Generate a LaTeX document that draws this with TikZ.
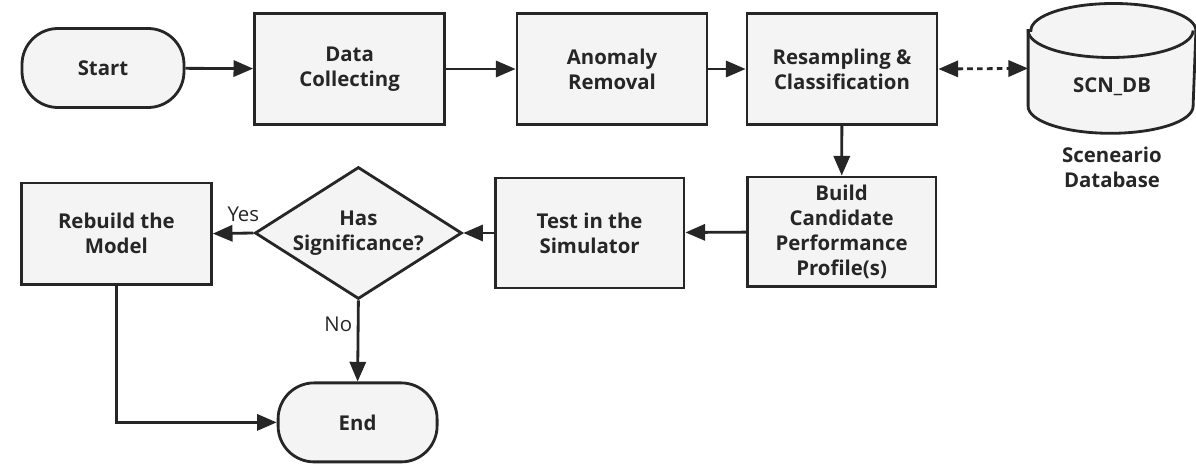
\documentclass[tikz,border=0pt]{standalone}
\usepackage{fontspec}
\setmainfont{Open Sans}
\usetikzlibrary{positioning, shapes.geometric, shapes.misc, arrows.meta, calc}
\definecolor{ink}{HTML}{262626}
\definecolor{boxfill}{HTML}{F4F4F4}

\begin{document}
\begin{tikzpicture}[font=\fontsize{14.5}{17.7}\selectfont, line width=2pt, color=ink,
  box/.style={draw=ink, fill=boxfill, align=center, text=ink, inner sep=2pt,
              font=\fontsize{14.5}{17.7}\selectfont\bfseries,
              minimum width=4.75cm, minimum height=2.78cm},
  term/.style={box, rounded corners=0.9cm, minimum width=4.05cm, minimum height=1.975cm},
  flow/.style={-{Triangle[length=14pt, width=11.5pt]}},
  link/.style={{Triangle[length=14pt, width=11.5pt]}-{Triangle[length=14pt, width=11.5pt]},
               dash pattern=on 4pt off 3pt}]
  \useasboundingbox (0,0) rectangle (29.9,11.6);

  % Top row
  \node[term] (start) at (2.575,9.9) {Start};
  \node[box] (collect) at (8.74,9.875) {Data\\Collecting};
  \node[box] (anomaly) at (15.3,9.875) {Anomaly\\Removal};
  \node[box] (resample) at (21.05,9.875) {Resampling \&\\Classification};

  % Database cylinder
  \node[minimum width=4.125cm, minimum height=3.175cm, inner sep=0pt] (scndb) at (27.8,9.89) {};
  \draw[fill=boxfill] ($(scndb.north west)+(0,-0.675)$) -- ($(scndb.south west)+(0,0.675)$)
    arc[start angle=180, end angle=360, x radius=2.0625cm, y radius=0.675cm]
    -- ($(scndb.north east)+(0,-0.675)$)
    arc[start angle=0, end angle=180, x radius=2.0625cm, y radius=0.675cm] -- cycle;
  \draw ($(scndb.north west)+(0,-0.675)$)
    arc[start angle=180, end angle=360, x radius=2.0625cm, y radius=0.675cm];
  \node[font=\fontsize{14.5}{17.7}\selectfont\bfseries] (scntext) at ($(scndb.center)+(0,-0.47)$) {SCN\_DB};
  \node[font=\fontsize{14.5}{17.7}\selectfont\bfseries, align=center, below=0.2cm of scndb]
        (scnlabel) {Sceneario\\Database};

  % Bottom row
  \node[box, minimum width=4.72cm, minimum height=2.73cm] (profile) at (21.04,5.81)
        {Build\\Candidate\\Performance\\Profile(s)};
  \node[box, minimum width=4.72cm, minimum height=2.75cm] (simtest) at (14.74,5.775)
        {Test in the\\Simulator};
  \node[box, diamond, aspect=1.57, inner sep=0pt, minimum width=5.175cm, minimum height=3.3cm]
        (signif) at (8.96,5.775) {Has\\Significance?};
  \node[box, minimum height=2.53cm] (rebuild) at (2.91,5.76) {Rebuild the\\Model};
  \node[term, minimum width=3.975cm] (finish) at (8.94,1.04) {End};

  % Connectors
  \draw[flow] (start) -- (collect);
  \draw[flow] (collect) -- (anomaly);
  \draw[flow] (anomaly) -- (resample);
  \draw[link] (resample.east) -- (scndb.west);
  \draw[flow] (resample) -- (profile);
  \draw[flow] (profile) -- (simtest);
  \draw[flow] (simtest) -- (signif);
  \draw[flow] (signif.west) -- node[above=4pt, pos=0.25] {Yes} (rebuild.east);
  \draw[flow] (signif.south) -- node[left, pos=0.3] {No} (finish.north);
  \draw[flow] (rebuild.south) |- (finish.west);
\end{tikzpicture}
\end{document}
